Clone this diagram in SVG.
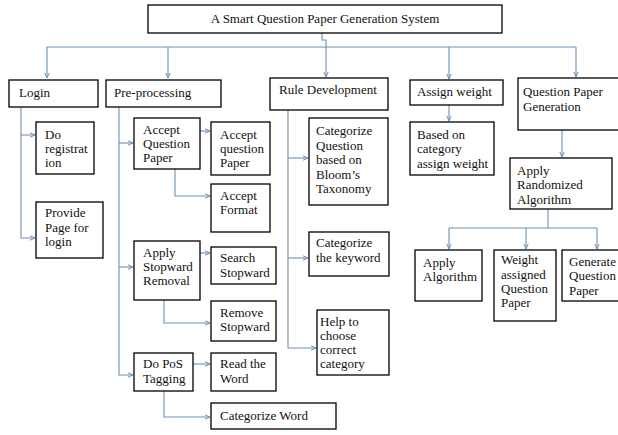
<svg xmlns="http://www.w3.org/2000/svg" width="618" height="435" viewBox="0 0 618 435">
<style>
.b{fill:#fff;stroke:#000;stroke-width:1.3}
.t{font-family:"Liberation Serif","Times New Roman",serif;font-size:13px;fill:#111}
.c{fill:none;stroke:#6f90b5;stroke-width:1.1}
</style>
<defs>
<marker id="a" markerWidth="6" markerHeight="6" refX="5" refY="3" orient="auto" markerUnits="userSpaceOnUse">
<path d="M0,0.8 L5,3 L0,5.2" fill="none" stroke="#6f90b5" stroke-width="1"/>
</marker>
</defs>
<rect width="618" height="435" fill="#fff"/>
<g id="connectors" class="c">
<path d="M322,33 V40 H326 V47"/>
<path d="M47,47 H576"/>
<path d="M47,47 V78" marker-end="url(#a)"/>
<path d="M168,47 V78" marker-end="url(#a)"/>
<path d="M326,47 V77" marker-end="url(#a)"/>
<path d="M449,47 V79" marker-end="url(#a)"/>
<path d="M576,47 V77" marker-end="url(#a)"/>
<path d="M21,107 V238 H35" marker-end="url(#a)"/>
<path d="M21,135 H35" marker-end="url(#a)"/>
<path d="M119,107 V375 H133" marker-end="url(#a)"/>
<path d="M119,143 H133" marker-end="url(#a)"/>
<path d="M119,267 H133" marker-end="url(#a)"/>
<path d="M200,131 H210" marker-end="url(#a)"/>
<path d="M175,169 V196 H210" marker-end="url(#a)"/>
<path d="M200,253 H210" marker-end="url(#a)"/>
<path d="M164,300 V323 H210" marker-end="url(#a)"/>
<path d="M193,364 H210" marker-end="url(#a)"/>
<path d="M164,391 V417 H210" marker-end="url(#a)"/>
<path d="M288,110 V348 H316" marker-end="url(#a)"/>
<path d="M288,158 H308" marker-end="url(#a)"/>
<path d="M288,258 H308" marker-end="url(#a)"/>
<path d="M449,105 V121" marker-end="url(#a)"/>
<path d="M562,130 V157" marker-end="url(#a)"/>
<path d="M548,209 V228"/>
<path d="M449,228 H597"/>
<path d="M449,228 V249" marker-end="url(#a)"/>
<path d="M526,228 V249" marker-end="url(#a)"/>
<path d="M597,228 V249" marker-end="url(#a)"/>
</g>
<g id="title"><rect class="b" x="148" y="5" width="354" height="28"/><text class="t" x="325" y="23" text-anchor="middle">A Smart Question Paper Generation System</text></g>
<g id="login"><rect class="b" x="9" y="80" width="89" height="27"/><text class="t" x="19" y="97">Login</text></g>
<g id="preprocessing"><rect class="b" x="106" y="80" width="115" height="27"/><text class="t" x="114" y="97">Pre-processing</text></g>
<g id="rule"><rect class="b" x="270" y="78" width="118" height="32"/><text class="t" x="279" y="94">Rule Development</text></g>
<g id="assign"><rect class="b" x="410" y="80" width="93" height="25"/><text class="t" x="417" y="96">Assign weight</text></g>
<g id="qpg"><rect class="b" x="518" y="78" width="102" height="52"/><text class="t" x="523" y="96">Question Paper</text><text class="t" x="523" y="111">Generation</text></g>
<g id="doreg"><rect class="b" x="36" y="122" width="58" height="52"/><text class="t" x="45" y="139">Do</text><text class="t" x="45" y="153">registrat</text><text class="t" x="45" y="167">ion</text></g>
<g id="provide"><rect class="b" x="36" y="202" width="67" height="56"/><text class="t" x="45" y="217">Provide</text><text class="t" x="45" y="232">Page for</text><text class="t" x="45" y="246">login</text></g>
<g id="acceptqp"><rect class="b" x="134" y="118" width="66" height="51"/><text class="t" x="143" y="134">Accept</text><text class="t" x="143" y="148">Question</text><text class="t" x="143" y="162">Paper</text></g>
<g id="acceptq"><rect class="b" x="211" y="122" width="59" height="53"/><text class="t" x="220" y="139">Accept</text><text class="t" x="220" y="153">question</text><text class="t" x="220" y="167">Paper</text></g>
<g id="acceptformat"><rect class="b" x="211" y="184" width="59" height="48"/><text class="t" x="220" y="200">Accept</text><text class="t" x="220" y="214">Format</text></g>
<g id="applystop"><rect class="b" x="134" y="241" width="66" height="59"/><text class="t" x="143" y="257">Apply</text><text class="t" x="143" y="271">Stopward</text><text class="t" x="143" y="285">Removal</text></g>
<g id="searchstop"><rect class="b" x="211" y="247" width="65" height="37"/><text class="t" x="220" y="262">Search</text><text class="t" x="220" y="277">Stopward</text></g>
<g id="removestop"><rect class="b" x="211" y="301" width="65" height="40"/><text class="t" x="220" y="317">Remove</text><text class="t" x="220" y="331">Stopward</text></g>
<g id="dopos"><rect class="b" x="134" y="353" width="59" height="38"/><text class="t" x="143" y="368">Do PoS</text><text class="t" x="143" y="383">Tagging</text></g>
<g id="readword"><rect class="b" x="211" y="353" width="65" height="38"/><text class="t" x="220" y="368">Read the</text><text class="t" x="220" y="383">Word</text></g>
<g id="catword"><rect class="b" x="211" y="403" width="125" height="26"/><text class="t" x="220" y="420">Categorize Word</text></g>
<g id="catq"><rect class="b" x="309" y="118" width="79" height="87"/><text class="t" x="316" y="135">Categorize</text><text class="t" x="316" y="150">Question</text><text class="t" x="316" y="164">based on</text><text class="t" x="316" y="179">Bloom’s</text><text class="t" x="316" y="193">Taxonomy</text></g>
<g id="catkey"><rect class="b" x="309" y="232" width="80" height="44"/><text class="t" x="316" y="247">Categorize</text><text class="t" x="316" y="262">the keyword</text></g>
<g id="help"><rect class="b" x="317" y="310" width="72" height="65"/><text class="t" x="320" y="326">Help to</text><text class="t" x="320" y="340">choose</text><text class="t" x="320" y="354">correct</text><text class="t" x="320" y="368">category</text></g>
<g id="basedon"><rect class="b" x="410" y="122" width="84" height="53"/><text class="t" x="417" y="139">Based on</text><text class="t" x="417" y="153">category</text><text class="t" x="417" y="168">assign weight</text></g>
<g id="applyrand"><rect class="b" x="510" y="158" width="102" height="51"/><text class="t" x="517" y="175">Apply</text><text class="t" x="517" y="189">Randomized</text><text class="t" x="517" y="204">Algorithm</text></g>
<g id="applyalg"><rect class="b" x="415" y="250" width="67" height="51"/><text class="t" x="423" y="267">Apply</text><text class="t" x="423" y="281">Algorithm</text></g>
<g id="weightqp"><rect class="b" x="494" y="250" width="62" height="71"/><text class="t" x="501" y="264">Weight</text><text class="t" x="501" y="279">assigned</text><text class="t" x="501" y="293">Question</text><text class="t" x="501" y="307">Paper</text></g>
<g id="generate"><rect class="b" x="562" y="250" width="58" height="51"/><text class="t" x="569" y="266">Generate</text><text class="t" x="569" y="280">Question</text><text class="t" x="569" y="295">Paper</text></g>
</svg>
